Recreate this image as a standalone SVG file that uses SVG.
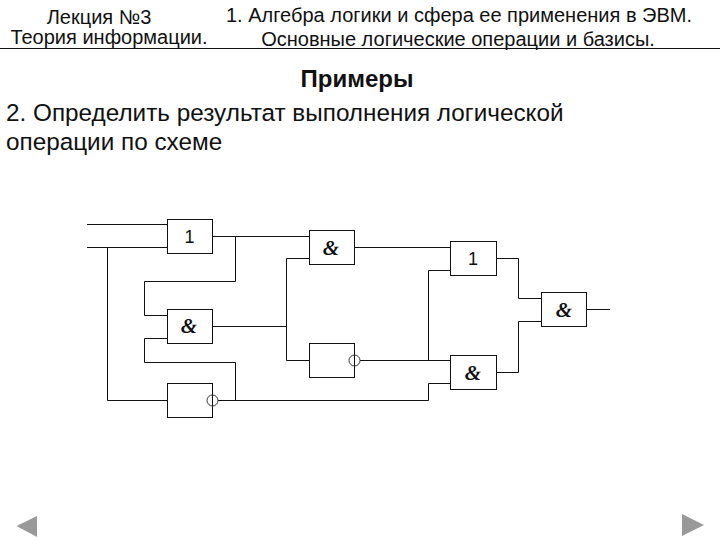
<svg xmlns="http://www.w3.org/2000/svg" width="720" height="540" viewBox="0 0 720 540">
<style>
text{font-family:"Liberation Sans",Arial,sans-serif;fill:#111}
.h{font-size:20px;text-anchor:middle}
.b{font-size:24.3px}
.g{fill:#fff;stroke:#111;stroke-width:1}
.w{fill:none;stroke:#111;stroke-width:1}
.c{fill:none;stroke:#333;stroke-width:1}
.and{font-family:"Liberation Serif",serif;font-style:italic;font-weight:bold;font-size:21px;text-anchor:middle}
.one{font-size:18px;text-anchor:middle}
.n{fill:#999}
</style>
<rect width="720" height="540" fill="#fff"/>
<g id="header">
<text class="h" x="99" y="24">Лекция №3</text>
<text class="h" x="109" y="44">Теория информации.</text>
<text class="h" x="459" y="22">1. Алгебра логики и сфера ее применения в ЭВМ.</text>
<text class="h" x="458" y="46">Основные логические операции и базисы.</text>
<path class="w" d="M0 48.5H720"/>
</g>
<g id="title">
<text x="357" y="87" font-size="24" font-weight="bold" text-anchor="middle">Примеры</text>
<text class="b" x="6" y="121">2. Определить результат выполнения логической</text>
<text class="b" x="6" y="150">операции по схеме</text>
</g>
<g id="connectors">
<path class="w" d="M87 224.5H167.5M87 247.5H167.5M107.5 247.5V400.5H167.5"/>
<path class="w" d="M212.5 236.5H309.5M235.5 236.5V281.5H144.5V315.5H167.5"/>
<path class="w" d="M212.5 326.5H286.5M309.5 258.5H286.5V360.5H309.5"/>
<path class="w" d="M167.5 338.5H144.5V362.5H235.5V400.5"/>
<path class="w" d="M218 400.5H428.5V383.5H450.5"/>
<path class="w" d="M360 360.5H450.5M428.5 360.5V270.5H450.5"/>
<path class="w" d="M354.5 247.5H450.5"/>
<path class="w" d="M496.5 258.5H518.5V298.5H541.5M496.5 372.5H518.5V321.5H541.5M586.5 309.5H610"/>
</g>
<g id="or1"><rect class="g" x="167.5" y="219.5" width="45" height="34"/><text class="one" x="189.500" y="243">1</text></g>
<g id="and1"><rect class="g" x="167.5" y="309.5" width="45" height="34"/><text class="and" x="189" y="333">&amp;</text></g>
<g id="not1"><rect class="g" x="167.5" y="383.500" width="45" height="34"/><circle class="c" cx="212.500" cy="400.500" r="5.500"/></g>
<g id="and2"><rect class="g" x="309.5" y="230.5" width="45" height="34"/><text class="and" x="331" y="255">&amp;</text></g>
<g id="not2"><rect class="g" x="309.5" y="343.5" width="45" height="34"/><circle class="c" cx="354.500" cy="360.500" r="5.500"/></g>
<g id="or2"><rect class="g" x="450.5" y="241.5" width="46" height="34"/><text class="one" x="473" y="265">1</text></g>
<g id="and3"><rect class="g" x="450.5" y="355.5" width="46" height="34"/><text class="and" x="473" y="380">&amp;</text></g>
<g id="and4"><rect class="g" x="541.5" y="292.5" width="45" height="34"/><text class="and" x="564" y="317">&amp;</text></g>
<g id="nav">
<path class="n" d="M16.500 526L37 516V537Z"/>
<path class="n" d="M682 514L704 525L682 536Z"/>
</g>
</svg>
